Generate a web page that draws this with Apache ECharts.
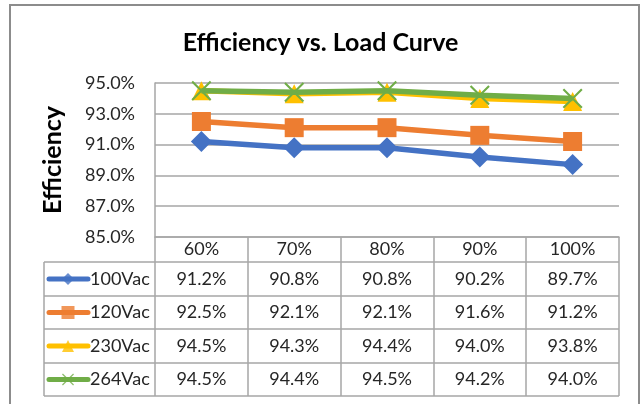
<!DOCTYPE html>
<html>
<head>
<meta charset="utf-8">
<script src="https://cdn.jsdelivr.net/npm/echarts@6/dist/echarts.min.js"></script>
<style>
  html, body { margin: 0; padding: 0; background: #fff; }
  #chart { width: 641px; height: 404px; }
</style>
</head>
<body>
<div id="chart"></div>
<script>
// data
const loads = ["60%", "70%", "80%", "90%", "100%"]
const seriesNames = ["100Vac", "120Vac", "230Vac", "264Vac"]
const eff100 = [91.2, 90.8, 90.8, 90.2, 89.7]
const eff120 = [92.5, 92.1, 92.1, 91.6, 91.2]
const eff230 = [94.5, 94.3, 94.4, 94.0, 93.8]
const eff264 = [94.5, 94.4, 94.5, 94.2, 94.0]
const allData = [eff100, eff120, eff230, eff264]

const FONT = "Lato, 'Open Sans', sans-serif"
const GRID_COLOR = "#a6a6a6"
const TEXT_COLOR = "#262626"
const xMark = "path://M0,1.5 L1.5,0 L10,8.5 L18.5,0 L20,1.5 L11.5,10 L20,18.5 L18.5,20 L10,11.5 L1.5,20 L0,18.5 L8.5,10 Z"

const styles = [
  { color: "#4472c4", symbol: "diamond", size: 21, key: 12 },
  { color: "#ed7d31", symbol: "rect", size: 19, key: 13 },
  { color: "#ffc000", symbol: "triangle", size: 19, key: 12 },
  { color: "#70ad47", symbol: xMark, size: 20, key: 12 }
]

// table layout
const tableLeft = 44
const plotLeft = 155
const plotRight = 619
const axisY = 237
const rowLines = [262, 296, 329, 363, 396]
const rowMid = i => (rowLines[i] + rowLines[i + 1]) / 2

const chart = echarts.init(document.getElementById("chart"))

chart.setOption({
  animation: false,
  title: {
    text: "Efficiency vs. Load Curve",
    left: "center",
    top: 25,
    textStyle: { fontFamily: FONT, fontSize: 25, fontWeight: "bold", color: "#000" }
  },
  grid: [
    { left: plotLeft, right: 641 - plotRight, top: 83, bottom: 404 - axisY },
    // overlay grid in pixel units for the legend keys of the table
    { left: 0, top: 0, width: 641, height: 404, show: false }
  ],
  xAxis: [
    {
      type: "category",
      data: loads,
      boundaryGap: true,
      axisLine: { lineStyle: { color: GRID_COLOR, width: 1.5 } },
      axisTick: { show: true, length: rowLines[4] - axisY, lineStyle: { color: GRID_COLOR, width: 1.5 } },
      axisLabel: { margin: 3, fontFamily: FONT, fontSize: 18, color: TEXT_COLOR }
    },
    { type: "value", gridIndex: 1, min: 0, max: 641, show: false }
  ],
  yAxis: [
    {
      type: "value",
      min: 85,
      max: 95,
      interval: 2,
      name: "Efficiency",
      nameLocation: "middle",
      nameRotate: 90,
      nameGap: 90,
      nameTextStyle: { fontFamily: FONT, fontSize: 25, fontWeight: "bold", color: "#000" },
      axisLine: { show: true, lineStyle: { color: GRID_COLOR, width: 1.5 } },
      axisTick: { show: false },
      axisLabel: {
        margin: 20,
        fontFamily: FONT,
        fontSize: 18,
        color: TEXT_COLOR,
        formatter: v => v.toFixed(1) + "%"
      },
      splitLine: { lineStyle: { color: GRID_COLOR, width: 1.5 } }
    },
    { type: "value", gridIndex: 1, min: 0, max: 404, inverse: true, show: false }
  ],
  series: seriesNames.map((name, i) => ({
    name: name,
    type: "line",
    data: allData[i],
    symbol: styles[i].symbol,
    symbolSize: styles[i].size,
    lineStyle: { color: styles[i].color, width: 5.5 },
    itemStyle: { color: styles[i].color },
    z: 2 + i
  })).concat(seriesNames.map((name, i) => ({
    type: "scatter",
    xAxisIndex: 1,
    yAxisIndex: 1,
    silent: true,
    symbol: styles[i].symbol,
    symbolSize: styles[i].key,
    itemStyle: { color: styles[i].color },
    data: [[68, rowMid(i)]],
    z: 10
  })))
})

function drawTable() {
  const g = []
  g.push({
    type: "rect",
    shape: { x: 10, y: 5, width: 629, height: 410 },
    style: { fill: null, stroke: "#8c8c8c", lineWidth: 2 },
    silent: true
  })
  rowLines.forEach(y => {
    g.push({
      type: "line",
      shape: { x1: tableLeft, y1: y, x2: plotRight, y2: y },
      style: { stroke: GRID_COLOR, lineWidth: 1.5 }
    })
  })
  g.push({
    type: "line",
    shape: { x1: tableLeft, y1: rowLines[0], x2: tableLeft, y2: rowLines[4] },
    style: { stroke: GRID_COLOR, lineWidth: 1.5 }
  })
  seriesNames.forEach((name, i) => {
    const cy = rowMid(i)
    g.push({
      type: "line",
      shape: { x1: 49, y1: cy, x2: 88, y2: cy },
      style: { stroke: styles[i].color, lineWidth: 5, lineCap: "round" },
      z: 5
    })
    g.push({
      type: "text",
      x: 90,
      y: cy,
      style: { text: name, fontFamily: FONT, fontSize: 18, fill: TEXT_COLOR, align: "left", verticalAlign: "middle" }
    })
    allData[i].forEach((v, j) => {
      g.push({
        type: "text",
        x: chart.convertToPixel({ xAxisIndex: 0 }, j),
        y: cy,
        style: { text: v.toFixed(1) + "%", fontFamily: FONT, fontSize: 18, fill: TEXT_COLOR, align: "center", verticalAlign: "middle" }
      })
    })
  })
  chart.setOption({ graphic: g })
}
drawTable()
</script>
</body>
</html>
